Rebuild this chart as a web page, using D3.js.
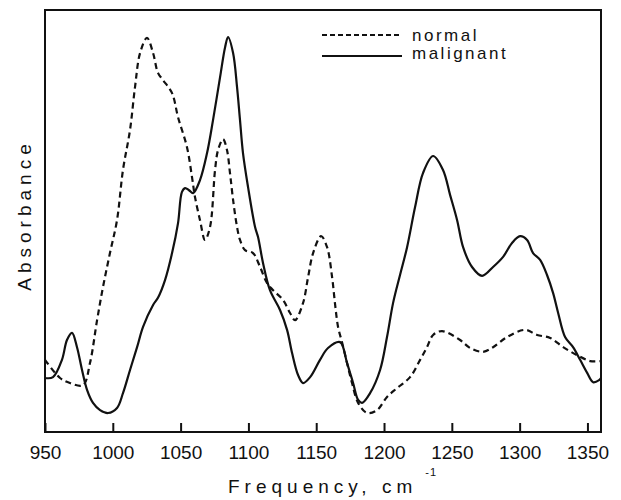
<!DOCTYPE html>
<html><head><meta charset="utf-8">
<script src="https://cdn.jsdelivr.net/npm/d3@7"></script>
<style>body{margin:0;background:#fff}svg{display:block}</style>
</head><body>
<svg id="c" width="621" height="500"></svg>
<script>
// Frequency (cm^-1) and absorbance (arbitrary units)
const normalFreq = [950,961.1,968.4,978,983.2,988.4,992.8,997.9,1003.1,1007.5,1012.7,1016.4,1020.1,1025.2,1029.7,1033.3,1037,1043.7,1048.1,1054.7,1058.4,1060.6,1064.3,1068,1071.7,1075.4,1077.6,1081.3,1084.2,1086.4,1088.7,1091.6,1093.8,1097.5,1103.4,1108.6,1113.7,1118.2,1125.5,1130.7,1134.4,1140.3,1144,1147.7,1153.6,1158,1161.7,1164,1166.1,1169,1172.7,1176.4,1180.9,1187.5,1194.9,1202.2,1209.6,1219.2,1226.6,1231.7,1236.2,1242.8,1256.1,1263.5,1273,1280.4,1290.7,1304,1312.9,1322.5,1332.1,1342.4,1352,1360];
const normalAbs = [0.171,0.128,0.116,0.111,0.164,0.265,0.344,0.424,0.502,0.621,0.716,0.818,0.898,0.934,0.898,0.851,0.834,0.803,0.746,0.675,0.604,0.557,0.502,0.455,0.486,0.621,0.668,0.694,0.668,0.614,0.55,0.486,0.455,0.431,0.424,0.391,0.353,0.336,0.313,0.282,0.265,0.306,0.367,0.424,0.464,0.438,0.367,0.3,0.249,0.213,0.164,0.116,0.069,0.045,0.052,0.083,0.104,0.13,0.171,0.201,0.23,0.239,0.218,0.199,0.19,0.201,0.225,0.242,0.23,0.223,0.201,0.182,0.168,0.168];
const malignantFreq = [950,955.9,962.5,966.2,969.9,973.6,977.3,981,985.4,990.6,996.5,1003.1,1007.5,1012.7,1017.9,1022.3,1029.7,1033.3,1038.5,1043.7,1048.1,1051,1053.3,1056.2,1059.2,1064.3,1069.5,1073.9,1079.1,1082.8,1085,1088.7,1091.6,1093.8,1096,1099.7,1104.9,1107.1,1110.8,1115.9,1123.3,1128.5,1132.2,1136.6,1140.3,1145.5,1152.8,1158.7,1167.6,1172.7,1177.2,1180.9,1183.8,1189.7,1197.1,1202.2,1206.7,1211.8,1217,1222.9,1228.8,1236.2,1243.5,1248.7,1253.9,1258.3,1264.9,1272.3,1280.4,1287.8,1294.4,1300.3,1305.5,1309.9,1315.1,1320.2,1324.7,1328.4,1333.5,1339.4,1344.6,1349.8,1354.2,1358.6,1360];
const malignantAbs = [0.128,0.13,0.171,0.218,0.235,0.201,0.147,0.1,0.069,0.052,0.045,0.057,0.092,0.147,0.201,0.249,0.301,0.318,0.36,0.424,0.495,0.569,0.578,0.573,0.566,0.597,0.661,0.739,0.841,0.912,0.936,0.898,0.818,0.739,0.661,0.581,0.486,0.462,0.4,0.336,0.289,0.242,0.187,0.135,0.116,0.13,0.171,0.199,0.213,0.164,0.116,0.076,0.069,0.092,0.147,0.225,0.306,0.372,0.438,0.533,0.614,0.654,0.621,0.562,0.502,0.438,0.391,0.37,0.391,0.415,0.448,0.464,0.455,0.424,0.408,0.372,0.329,0.282,0.225,0.201,0.171,0.14,0.118,0.123,0.128];
const xTicks = [950,1000,1050,1100,1150,1200,1250,1300,1350];
const seriesNames = ["normal","malignant"];

const svg = d3.select("#c");
const L=45, R=601, T=10, B=432;
const x = d3.scaleLinear().domain([950,1360]).range([L,R]);
const y = d3.scaleLinear().domain([0,1]).range([B,T]);
const ink = "#111";
const font = "'Liberation Sans', Arial, sans-serif";

// frame
svg.append("rect").attr("x",L).attr("y",T).attr("width",R-L).attr("height",B-T)
  .attr("fill","none").attr("stroke",ink).attr("stroke-width",2);

// bottom axis, ticks pointing inward
const ax = svg.append("g").attr("transform",`translate(0,${B})`)
  .call(d3.axisBottom(x).tickValues(xTicks).tickSizeInner(-9).tickSizeOuter(0).tickPadding(14).tickFormat(d3.format("d")));
ax.select(".domain").remove();
ax.selectAll("line").attr("stroke",ink).attr("stroke-width",2);
ax.selectAll("text").attr("font-family",font).attr("font-size",19).attr("fill",ink);

const line = (xs,ys)=> d3.line().x((d,i)=>x(xs[i])).y((d,i)=>y(ys[i])).curve(d3.curveCatmullRom.alpha(0.5))(xs);

svg.append("path").attr("d",line(normalFreq,normalAbs)).attr("fill","none")
  .attr("stroke",ink).attr("stroke-width",2.2).attr("stroke-dasharray","6,4");
svg.append("path").attr("d",line(malignantFreq,malignantAbs)).attr("fill","none")
  .attr("stroke",ink).attr("stroke-width",2.2);

// legend
const lg = svg.append("g");
lg.append("line").attr("x1",322).attr("x2",402).attr("y1",35).attr("y2",35)
  .attr("stroke",ink).attr("stroke-width",1.8).attr("stroke-dasharray","5,3");
lg.append("line").attr("x1",322).attr("x2",402).attr("y1",56).attr("y2",56)
  .attr("stroke",ink).attr("stroke-width",1.8);
lg.append("text").attr("x",412).attr("y",41).text(seriesNames[0])
  .attr("font-family",font).attr("font-size",17).attr("letter-spacing",2.5).attr("fill",ink);
lg.append("text").attr("x",412).attr("y",59).text(seriesNames[1])
  .attr("font-family",font).attr("font-size",17).attr("letter-spacing",2.5).attr("fill",ink);

// axis titles
const xt = svg.append("text").attr("x",228).attr("y",493)
  .attr("font-family",font).attr("font-size",19).attr("letter-spacing",5).attr("fill",ink);
xt.append("tspan").text("Frequency, cm");
xt.append("tspan").attr("dx",8).attr("dy",-17).attr("font-size",11).attr("letter-spacing",1).text("-1");

svg.append("text").attr("transform","translate(31,215) rotate(-90)").attr("text-anchor","middle")
  .attr("font-family",font).attr("font-size",19).attr("letter-spacing",5).attr("fill",ink)
  .text("Absorbance");
</script>
</body></html>
